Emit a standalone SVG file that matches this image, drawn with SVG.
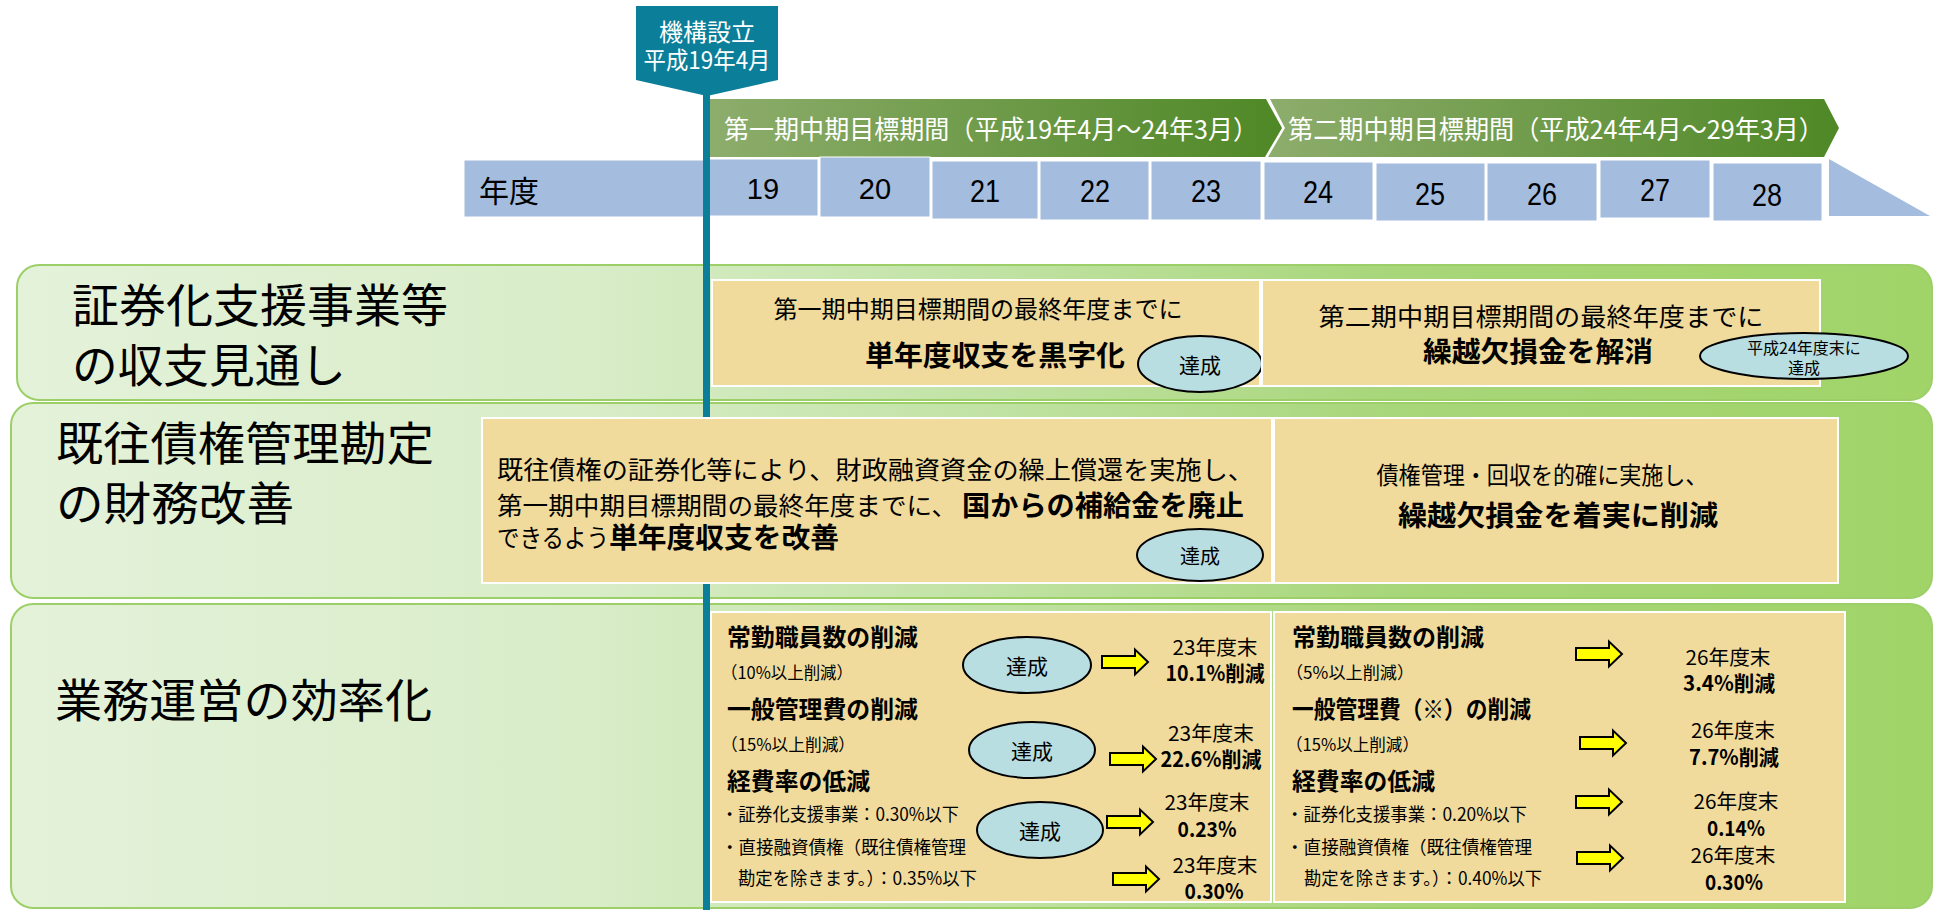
<svg xmlns="http://www.w3.org/2000/svg" width="1935" height="910" viewBox="0 0 1935 910">
<defs>
<linearGradient id="rowGrad" gradientUnits="userSpaceOnUse" x1="0" y1="0" x2="1935" y2="0">
<stop offset="0" stop-color="#E4F2DA"/>
<stop offset="0.3" stop-color="#D9EDC9"/>
<stop offset="0.5" stop-color="#C2E3A6"/>
<stop offset="0.72" stop-color="#A8D67A"/>
<stop offset="1" stop-color="#A0D468"/>
</linearGradient>
<linearGradient id="banGrad" x1="0" y1="0" x2="1" y2="0">
<stop offset="0" stop-color="#8DAD6C"/>
<stop offset="1" stop-color="#4F8826"/>
</linearGradient>
<path id="yarrow" d="M0,-6 H33 V-12.5 L46,0 L33,12.5 V6 H0 Z"/>
</defs>
<style>
text{font-family:"Noto Sans CJK JP","Noto Sans CJK SC",sans-serif;dominant-baseline:central;fill:#000}
.row{fill:url(#rowGrad);stroke:#9DCF68;stroke-width:2}
.tan{fill:#F0DB9C;stroke:#fff;stroke-width:2}
.cell{fill:#A4BCDD;stroke:#fff;stroke-width:1}
.ell{fill:#B9DEE2;stroke:#000;stroke-width:2}
.arr{fill:#FFFF00;stroke:#000;stroke-width:2}
.lbl{font-size:46px}
.yr{font-family:"Liberation Sans",Arial,sans-serif;font-size:29px;text-anchor:middle}
.yc{font-family:"Liberation Sans",Arial,sans-serif;font-size:31px;text-anchor:middle}
.b{font-weight:700}
.m{text-anchor:middle}
.w{fill:#fff}
.t24{font-size:24px}
.t25{font-size:25px}
.t26{font-size:26px}
.t28{font-size:28px}
.t17{font-size:17px}
.t18{font-size:18px}
.t20{font-size:20px}
.t21{font-size:21px}
</style>

<!-- row backgrounds and labels -->
<g id="row1">
<rect class="row" x="17" y="265" width="1915" height="135" rx="22"/>
<text class="lbl" x="72" y="302" textLength="376" lengthAdjust="spacingAndGlyphs">証券化支援事業等</text>
<text class="lbl" x="72" y="362" textLength="274" lengthAdjust="spacingAndGlyphs">の収支見通し</text>
</g>
<g id="row2">
<rect class="row" x="11" y="403" width="1921" height="195" rx="22"/>
<text class="lbl" x="56" y="440" textLength="378" lengthAdjust="spacingAndGlyphs">既往債権管理勘定</text>
<text class="lbl" x="56" y="500" textLength="238" lengthAdjust="spacingAndGlyphs">の財務改善</text>
</g>
<g id="row3">
<rect class="row" x="11" y="604" width="1921" height="304" rx="22"/>
<text class="lbl" x="55" y="697" textLength="377" lengthAdjust="spacingAndGlyphs">業務運営の効率化</text>
</g>

<!-- timeline header -->
<g id="banner1">
<polygon points="709,99 1266,99 1282,128 1265,157 709,157" fill="url(#banGrad)"/>
<text class="w t26" x="724" y="127" textLength="534" lengthAdjust="spacingAndGlyphs">第一期中期目標期間（平成19年4月～24年3月）</text>
</g>
<g id="banner2">
<polygon points="1270,99 1824,99 1839,128 1824,157 1268,157 1285,128" fill="url(#banGrad)"/>
<text class="w t26" x="1288" y="127" textLength="536" lengthAdjust="spacingAndGlyphs">第二期中期目標期間（平成24年4月～29年3月）</text>
</g>
<g id="yearbar">
<rect class="cell" x="464" y="160" width="245" height="57"/>
<text x="479" y="189" font-size="30">年度</text>
<rect class="cell" x="709" y="159" width="109" height="57"/>
<text class="yr" x="763" y="189">19</text>
<rect class="cell" x="820" y="157" width="110" height="60"/>
<text class="yr" x="875" y="189">20</text>
<rect class="cell" x="932" y="161" width="106" height="58"/>
<text class="yc" x="985" y="191" textLength="30" lengthAdjust="spacingAndGlyphs">21</text>
<rect class="cell" x="1040" y="161" width="109" height="59"/>
<text class="yc" x="1095" y="191" textLength="30" lengthAdjust="spacingAndGlyphs">22</text>
<rect class="cell" x="1151" y="161" width="110" height="59"/>
<text class="yc" x="1206" y="191" textLength="30" lengthAdjust="spacingAndGlyphs">23</text>
<rect class="cell" x="1264" y="162" width="109" height="58"/>
<text class="yc" x="1318" y="192" textLength="30" lengthAdjust="spacingAndGlyphs">24</text>
<rect class="cell" x="1376" y="163" width="109" height="58"/>
<text class="yc" x="1430" y="194" textLength="30" lengthAdjust="spacingAndGlyphs">25</text>
<rect class="cell" x="1487" y="163" width="110" height="58"/>
<text class="yc" x="1542" y="194" textLength="30" lengthAdjust="spacingAndGlyphs">26</text>
<rect class="cell" x="1600" y="160" width="110" height="58"/>
<text class="yc" x="1655" y="190" textLength="30" lengthAdjust="spacingAndGlyphs">27</text>
<rect class="cell" x="1713" y="163" width="109" height="58"/>
<text class="yc" x="1767" y="195" textLength="30" lengthAdjust="spacingAndGlyphs">28</text>
<polygon points="1829,159 1829,216 1930,216" fill="#A4BCDD"/>
</g>

<!-- establishment marker line -->
<g id="marker-line">
<rect x="703" y="90" width="7" height="820" fill="#0B7F9A"/>
</g>

<!-- row 1 content -->
<g id="goal1-first">
<rect class="tan" x="712" y="280" width="548" height="106"/>
<text class="t24 m" x="978" y="307" textLength="409" lengthAdjust="spacingAndGlyphs">第一期中期目標期間の最終年度までに</text>
<text class="t28 b m" x="995" y="354" textLength="260" lengthAdjust="spacingAndGlyphs">単年度収支を黒字化</text>
<ellipse class="ell" cx="1200" cy="364" rx="62" ry="28"/>
<text class="t21 m" x="1200" y="364">達成</text>
</g>
<g id="goal1-second">
<rect class="tan" x="1262" y="280" width="558" height="106"/>
<text class="t25 m" x="1541" y="315" textLength="445" lengthAdjust="spacingAndGlyphs">第二期中期目標期間の最終年度までに</text>
<text class="t28 b m" x="1538" y="350" textLength="230" lengthAdjust="spacingAndGlyphs">繰越欠損金を解消</text>
<ellipse class="ell" cx="1804" cy="356" rx="104" ry="23"/>
<text class="m" x="1804" y="347" font-size="16">平成24年度末に</text>
<text class="m" x="1804" y="367" font-size="16">達成</text>
</g>

<!-- row 2 content -->
<g id="goal2-first">
<rect class="tan" x="482" y="418" width="790" height="165"/>
<text class="t25" x="497" y="468" textLength="757" lengthAdjust="spacingAndGlyphs">既往債権の証券化等により、財政融資資金の繰上償還を実施し、</text>
<text class="t25" x="497" y="504" textLength="460" lengthAdjust="spacingAndGlyphs">第一期中期目標期間の最終年度までに、</text>
<text class="t28 b" x="962" y="504" textLength="282" lengthAdjust="spacingAndGlyphs">国からの補給金を廃止</text>
<text class="t25" x="497" y="536" textLength="112" lengthAdjust="spacingAndGlyphs">できるよう</text>
<text class="t28 b" x="609" y="536" textLength="230" lengthAdjust="spacingAndGlyphs">単年度収支を改善</text>
<ellipse class="ell" cx="1200" cy="555" rx="63" ry="26"/>
<text class="t20 m" x="1200" y="555">達成</text>
</g>
<g id="goal2-second">
<rect class="tan" x="1274" y="418" width="564" height="165"/>
<text class="t24 m" x="1542" y="473" textLength="331" lengthAdjust="spacingAndGlyphs">債権管理・回収を的確に実施し、</text>
<text class="t28 b m" x="1558" y="514" textLength="320" lengthAdjust="spacingAndGlyphs">繰越欠損金を着実に削減</text>
</g>

<!-- row 3 content -->
<g id="goal3-first">
<rect class="tan" x="711" y="612" width="560" height="290"/>
<text class="t24 b" x="727" y="635" textLength="191" lengthAdjust="spacingAndGlyphs">常勤職員数の削減</text>
<text class="t17" x="721" y="671" textLength="132" lengthAdjust="spacingAndGlyphs">（10%以上削減）</text>
<text class="t24 b" x="727" y="707" textLength="191" lengthAdjust="spacingAndGlyphs">一般管理費の削減</text>
<text class="t17" x="721" y="743" textLength="134" lengthAdjust="spacingAndGlyphs">（15%以上削減）</text>
<text class="t24 b" x="727" y="779" textLength="143" lengthAdjust="spacingAndGlyphs">経費率の低減</text>
<text class="t18" x="721" y="813" textLength="238" lengthAdjust="spacingAndGlyphs">・証券化支援事業：0.30%以下</text>
<text class="t18" x="721" y="846" textLength="245" lengthAdjust="spacingAndGlyphs">・直接融資債権（既往債権管理</text>
<text class="t18" x="738" y="877" textLength="239" lengthAdjust="spacingAndGlyphs">勘定を除きます。）：0.35%以下</text>
<ellipse class="ell" cx="1027" cy="665" rx="64" ry="28"/>
<text class="t21 m" x="1027" y="665">達成</text>
<ellipse class="ell" cx="1032" cy="750" rx="63" ry="28"/>
<text class="t21 m" x="1032" y="750">達成</text>
<ellipse class="ell" cx="1040" cy="830" rx="63" ry="28"/>
<text class="t21 m" x="1040" y="830">達成</text>
<text class="t20 m" x="1215" y="646" textLength="85" lengthAdjust="spacingAndGlyphs">23年度末</text>
<text class="t21 b m" x="1215" y="672" textLength="99" lengthAdjust="spacingAndGlyphs">10.1%削減</text>
<text class="t20 m" x="1211" y="732" textLength="86" lengthAdjust="spacingAndGlyphs">23年度末</text>
<text class="t21 b m" x="1211" y="758" textLength="101" lengthAdjust="spacingAndGlyphs">22.6%削減</text>
<text class="t20 m" x="1207" y="801" textLength="85" lengthAdjust="spacingAndGlyphs">23年度末</text>
<text class="t21 b m" x="1207" y="828" textLength="59" lengthAdjust="spacingAndGlyphs">0.23%</text>
<text class="t20 m" x="1215" y="864" textLength="85" lengthAdjust="spacingAndGlyphs">23年度末</text>
<text class="t21 b m" x="1214" y="890" textLength="59" lengthAdjust="spacingAndGlyphs">0.30%</text>
</g>
<g id="goal3-second">
<rect class="tan" x="1274" y="612" width="571" height="290"/>
<text class="t24 b" x="1292" y="635" textLength="192" lengthAdjust="spacingAndGlyphs">常勤職員数の削減</text>
<text class="t17" x="1286" y="671" textLength="128" lengthAdjust="spacingAndGlyphs">（5%以上削減）</text>
<text class="t24 b" x="1292" y="707" textLength="239" lengthAdjust="spacingAndGlyphs">一般管理費（※）の削減</text>
<text class="t17" x="1286" y="743" textLength="133" lengthAdjust="spacingAndGlyphs">（15%以上削減）</text>
<text class="t24 b" x="1292" y="779" textLength="143" lengthAdjust="spacingAndGlyphs">経費率の低減</text>
<text class="t18" x="1286" y="813" textLength="241" lengthAdjust="spacingAndGlyphs">・証券化支援事業：0.20%以下</text>
<text class="t18" x="1286" y="846" textLength="246" lengthAdjust="spacingAndGlyphs">・直接融資債権（既往債権管理</text>
<text class="t18" x="1304" y="877" textLength="238" lengthAdjust="spacingAndGlyphs">勘定を除きます。）：0.40%以下</text>
<text class="t20 m" x="1728" y="656" textLength="85" lengthAdjust="spacingAndGlyphs">26年度末</text>
<text class="t21 b m" x="1729" y="682" textLength="92" lengthAdjust="spacingAndGlyphs">3.4%削減</text>
<text class="t20 m" x="1733" y="729" textLength="84" lengthAdjust="spacingAndGlyphs">26年度末</text>
<text class="t21 b m" x="1734" y="756" textLength="90" lengthAdjust="spacingAndGlyphs">7.7%削減</text>
<text class="t20 m" x="1736" y="800" textLength="85" lengthAdjust="spacingAndGlyphs">26年度末</text>
<text class="t21 b m" x="1736" y="827" textLength="58" lengthAdjust="spacingAndGlyphs">0.14%</text>
<text class="t20 m" x="1733" y="854" textLength="85" lengthAdjust="spacingAndGlyphs">26年度末</text>
<text class="t21 b m" x="1734" y="881" textLength="58" lengthAdjust="spacingAndGlyphs">0.30%</text>
</g>

<!-- connectors: yellow block arrows -->
<g id="connectors">
<use href="#yarrow" class="arr" transform="translate(1102,662)"/>
<use href="#yarrow" class="arr" transform="translate(1110,759)"/>
<use href="#yarrow" class="arr" transform="translate(1107,822)"/>
<use href="#yarrow" class="arr" transform="translate(1113,879)"/>
<use href="#yarrow" class="arr" transform="translate(1576,654)"/>
<use href="#yarrow" class="arr" transform="translate(1580,743)"/>
<use href="#yarrow" class="arr" transform="translate(1576,802)"/>
<use href="#yarrow" class="arr" transform="translate(1577,858)"/>
</g>

<!-- establishment flag -->
<g id="flag">
<polygon points="636,6 778,6 778,80 707,96 636,80" fill="#0B7F9A"/>
<text class="w m" x="707" y="30" font-size="24">機構設立</text>
<text class="w m" x="707" y="58" font-size="24" textLength="127" lengthAdjust="spacingAndGlyphs">平成19年4月</text>
</g>
</svg>
